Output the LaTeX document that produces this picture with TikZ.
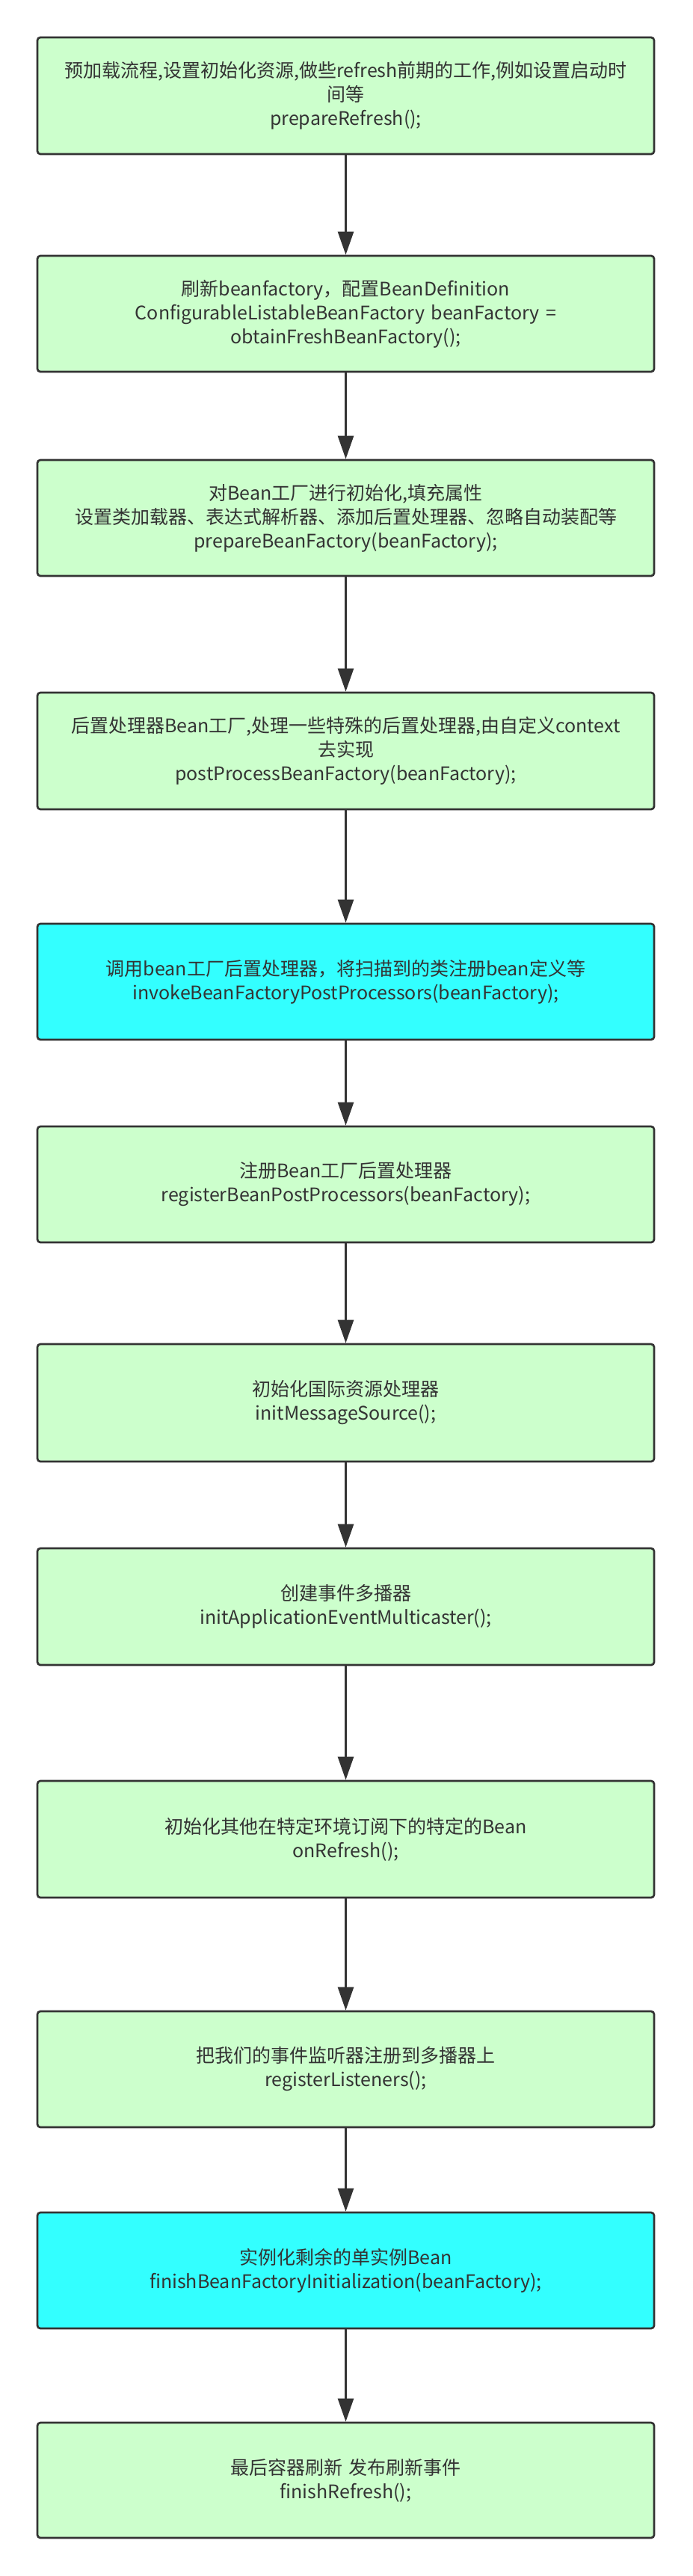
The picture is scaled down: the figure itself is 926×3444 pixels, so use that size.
\documentclass[tikz,border=0pt]{standalone}
\usepackage{fontspec}
\setmainfont{Noto Sans CJK SC}
\usetikzlibrary{arrows.meta}
\definecolor{edgegray}{HTML}{333333}
\definecolor{boxgreen}{HTML}{CCFFCC}
\definecolor{boxcyan}{HTML}{33FFFF}
\tikzset{
  stepbox/.style={draw=edgegray, line width=2.7pt, rounded corners=4pt,
    minimum width=825pt, text width=815pt, align=center, inner sep=0pt,
    text=edgegray, font=\fontsize{25}{32}\selectfont, fill=boxgreen},
  hotbox/.style={stepbox, fill=boxcyan},
  flow/.style={draw=edgegray, line width=2.7pt,
    -{Triangle[width=21pt,length=31pt]}}
}
\begin{document}
\begin{tikzpicture}[x=1pt,y=-1pt]
\useasboundingbox (0,0) rectangle (926,3444);
\fill[white] (0,0) rectangle (926,3444);
\node[stepbox, minimum height=156pt] (b1) at (462.5,128) {预加载流程,设置初始化资源,做些refresh前期的工作,例如设置启动时\\间等\\prepareRefresh();};
\node[stepbox, minimum height=155pt] (b2) at (462.5,419.5) {刷新beanfactory，配置BeanDefinition\\ConfigurableListableBeanFactory beanFactory =\\obtainFreshBeanFactory();};
\node[stepbox, minimum height=155pt] (b3) at (462.5,692.5) {对Bean工厂进行初始化,填充属性\\设置类加载器、表达式解析器、添加后置处理器、忽略自动装配等\\prepareBeanFactory(beanFactory);};
\node[stepbox, minimum height=156pt] (b4) at (462.5,1004) {后置处理器Bean工厂,处理一些特殊的后置处理器,由自定义context\\去实现\\postProcessBeanFactory(beanFactory);};
\node[hotbox, minimum height=155pt] (b5) at (462.5,1312.5) {调用bean工厂后置处理器，将扫描到的类注册bean定义等\\invokeBeanFactoryPostProcessors(beanFactory);};
\node[stepbox, minimum height=155pt] (b6) at (462.5,1583.5) {注册Bean工厂后置处理器\\registerBeanPostProcessors(beanFactory);};
\node[stepbox, minimum height=157pt] (b7) at (462.5,1875.5) {初始化国际资源处理器\\initMessageSource();};
\node[stepbox, minimum height=156pt] (b8) at (462.5,2148) {创建事件多播器\\initApplicationEventMulticaster();};
\node[stepbox, minimum height=156pt] (b9) at (462.5,2459) {初始化其他在特定环境订阅下的特定的Bean\\onRefresh();};
\node[stepbox, minimum height=155pt] (b10) at (462.5,2766.5) {把我们的事件监听器注册到多播器上\\registerListeners();};
\node[hotbox, minimum height=155pt] (b11) at (462.5,3035.5) {实例化剩余的单实例Bean\\finishBeanFactoryInitialization(beanFactory);};
\node[stepbox, minimum height=154pt] (b12) at (462.5,3316) {最后容器刷新 发布刷新事件\\finishRefresh();};
\foreach \a/\b in {b1/b2,b2/b3,b3/b4,b4/b5,b5/b6,b6/b7,b7/b8,b8/b9,b9/b10,b10/b11,b11/b12}
  \draw[flow] (\a.south) -- (\b.north);
\end{tikzpicture}
\end{document}
